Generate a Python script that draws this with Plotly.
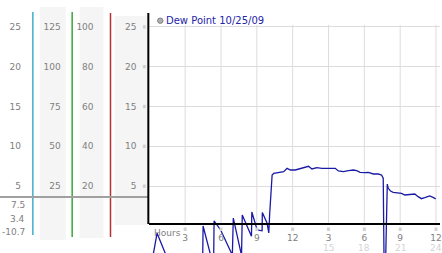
import plotly.graph_objects as go

W, H = 442, 253
TOP = 13
PLOT_H = H - TOP

hours = [0.0, 0.65, 1.6, 2.6, 3.6, 4.45, 4.5, 5.08, 5.38, 5.42, 5.97, 6.83, 6.95, 7.03,
         7.64, 7.72, 7.78, 8.47, 8.55, 8.58, 9.03, 9.44, 9.46, 9.86, 10.0, 10.08, 10.22,
         10.25, 10.28, 10.42, 10.69, 11.25, 11.53, 11.81, 12.22, 12.5, 13.06, 13.33, 13.61,
         14.03, 14.44, 15.56, 15.83, 16.25, 16.67, 17.08, 17.36, 17.64, 18.06, 18.33, 18.75,
         19.17, 19.44, 19.58, 19.69, 19.92, 20.0, 20.19, 20.42, 20.83, 21.11, 21.39, 21.81,
         22.22, 22.5, 22.78, 23.06, 23.47, 23.75, 23.97]
dew_point = [-6.3, -0.9, -4.4, -5.2, -4.8, -6.2, 0.0, -3.4, -5.1, 0.63, -0.5, -3.26, -3.7, 1.0,
             -3.26, -3.7, 1.38, -1.13, -1.3, 1.76, -0.5, -0.6, 1.69, 0.34, -0.88, 1.63, 4.3,
             5.78, 6.4, 6.61, 6.69, 6.82, 7.24, 7.03, 7.03, 7.16, 7.37, 7.5, 7.16,
             7.32, 7.24, 7.24, 6.91, 6.82, 6.94, 7.03, 6.94, 6.74, 6.69, 6.74, 6.53,
             6.53, 6.40, 5.99, -10.7, 5.27, 4.73, 4.39, 4.23, 4.18, 4.10, 3.89, 3.98,
             4.02, 3.68, 3.43, 3.55, 3.77, 3.60, 3.4]

series_name = "Dew Point 10/25/09"
y_ticks = [5, 10, 15, 20, 25]
col2_ticks = [25, 50, 75, 100, 125]
col3_ticks = [20, 40, 60, 80, 100]
x_ticks = [3, 6, 9, 12, 15, 18, 21, 24]
x_ticktext = ["3", "6", "9", "12", "3", "6", "9", "12"]
x_ticks_24 = [15, 18, 21, 24]
stat_labels = ["7.5", "3.4", "-10.7"]

Y_RANGE = [-3.39, 26.74]
X_RANGE = [0, 24.333]
PX_PER_H = 292 / X_RANGE[1]


def px(x):
    return x / W


def py(y):
    return (H - y) / PLOT_H


FONT = "DejaVu Sans"
GRAY = "#808080"

fig = go.Figure()
fig.add_trace(go.Scatter(x=hours, y=dew_point, mode="lines",
                         line=dict(color="#1a1aa6", width=1.3),
                         showlegend=False, hoverinfo="skip"))

# dummy traces to create the extra left axes
fig.add_trace(go.Scatter(x=[None], y=[None], yaxis="y2", showlegend=False))
fig.add_trace(go.Scatter(x=[None], y=[None], yaxis="y3", showlegend=False))
fig.add_trace(go.Scatter(x=[None], y=[None], yaxis="y4", showlegend=False))

shapes = []
# column backgrounds
for x0, x1, y0, y1 in [(40, 66, 7, 240), (80, 104, 7, 238), (115, 148, 16, 225)]:
    shapes.append(dict(type="rect", xref="paper", yref="paper", x0=px(x0), x1=px(x1),
                       y0=py(y1), y1=py(y0), fillcolor="#f5f5f5", line=dict(width=0),
                       layer="below"))
# colored separator lines
for x, col, y0, y1 in [(33, "#3fb0cc", 12, 235), (72.5, "#3aa63a", 12, 237), (111, "#b03232", 13, 237)]:
    shapes.append(dict(type="line", xref="paper", yref="paper", x0=px(x), x1=px(x),
                       y0=py(y1), y1=py(y0), line=dict(color=col, width=1.5)))
# horizontal gray separator
shapes.append(dict(type="line", xref="paper", yref="paper", x0=0, x1=px(149),
                   y0=py(197), y1=py(197), line=dict(color="#a0a0a0", width=2)))
# vertical grid lines
for t in x_ticks:
    shapes.append(dict(type="line", xref="x", yref="y", x0=t, x1=t, y0=0.25, y1=25.24,
                       line=dict(color="#dcdcdc", width=1), layer="below"))
# small tick glyphs under the x axis and beside the y labels
for t in x_ticks:
    shapes.append(dict(type="rect", xref="x", yref="paper",
                       x0=t - 1.5 / PX_PER_H, x1=t + 1.5 / PX_PER_H,
                       y0=py(231), y1=py(227.5), fillcolor="#d2d2d2", line=dict(width=0)))
for t in y_ticks:
    shapes.append(dict(type="rect", xref="paper", yref="y",
                       x0=px(143.5), x1=px(146.5), y0=t - 1.7 / 7.965, y1=t + 1.7 / 7.965,
                       fillcolor="#d2d2d2", line=dict(width=0)))
# left black axis line
shapes.append(dict(type="line", xref="paper", yref="paper", x0=px(149), x1=px(149),
                   y0=py(224), y1=1, line=dict(color="black", width=2)))
# legend marker
shapes.append(dict(type="circle", xref="paper", yref="paper", x0=px(158.3), x1=px(163.7),
                   y0=py(23.4), y1=py(18.0), fillcolor="#b0b0b0",
                   line=dict(color="#808080", width=1)))

annotations = []
annotations.append(dict(text=series_name, xref="paper", yref="paper", x=px(165), y=py(20.7),
                        xanchor="left", yanchor="middle", showarrow=False,
                        font=dict(family=FONT, size=10, color="#2424a8")))
annotations.append(dict(text="Hours", xref="paper", yref="paper", x=px(153), y=py(232.5),
                        xanchor="left", yanchor="middle", showarrow=False,
                        font=dict(family=FONT, size=9, color=GRAY)))
for t in x_ticks_24:
    annotations.append(dict(text=str(t), xref="x", yref="paper", x=t, y=py(247.5),
                            xanchor="center", yanchor="middle", showarrow=False,
                            font=dict(family=FONT, size=9, color="#d4d4d4")))
for lab, yy in zip(stat_labels, [205, 218.7, 231.7]):
    annotations.append(dict(text=lab, xref="paper", yref="paper", x=px(27), y=py(yy),
                            xanchor="right", yanchor="middle", showarrow=False,
                            font=dict(family=FONT, size=9, color=GRAY)))

tickfont = dict(family=FONT, size=9, color=GRAY)


def left_axis(pos, scale, ticks):
    return dict(overlaying="y", anchor="free", side="left", position=pos,
                range=[Y_RANGE[0] * scale, Y_RANGE[1] * scale],
                tickvals=ticks, ticktext=[str(t) for t in ticks],
                showgrid=False, zeroline=False, showline=False, ticks="",
                tickfont=tickfont, fixedrange=True)


fig.update_layout(
    width=W, height=H,
    margin=dict(l=0, r=0, t=TOP, b=0, pad=0),
    paper_bgcolor="white", plot_bgcolor="rgba(0,0,0,0)",
    showlegend=False,
    xaxis=dict(domain=[px(150), 1], range=X_RANGE, anchor="free", position=py(224),
               tickvals=x_ticks, ticktext=x_ticktext, showgrid=False, zeroline=False,
               showline=True, linecolor="black", linewidth=2,
               ticks="outside", ticklen=5, tickcolor="rgba(0,0,0,0)",
               ticklabeloverflow="allow", tickfont=tickfont),
    yaxis=dict(range=Y_RANGE, tickvals=y_ticks, ticktext=[str(t) for t in y_ticks],
               showgrid=True, gridcolor="#dcdcdc", gridwidth=1, zeroline=False,
               showline=False, ticks="outside", ticklen=10, tickcolor="rgba(0,0,0,0)",
               tickfont=tickfont),
    yaxis2=left_axis(px(21), 1, y_ticks),
    yaxis3=left_axis(px(61), 5, col2_ticks),
    yaxis4=left_axis(px(94), 4, col3_ticks),
    shapes=shapes,
    annotations=annotations,
)

fig.write_html("out.html")
